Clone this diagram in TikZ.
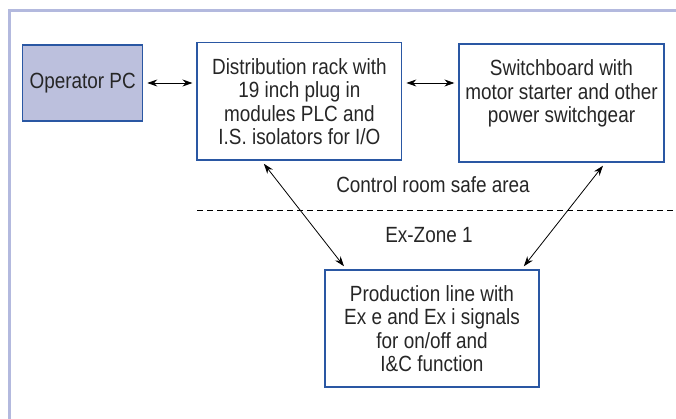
\documentclass[tikz,border=0pt]{standalone}
\usepackage{fontspec}
\setmainfont[FakeStretch=0.86]{Liberation Sans}
\usetikzlibrary{arrows.meta,calc}
\definecolor{cadre}{HTML}{B3B9DE}
\definecolor{bordbleu}{HTML}{2A57A3}
\definecolor{fondpc}{HTML}{BCC0DD}
\definecolor{texte}{HTML}{262626}

\begin{document}
\begin{tikzpicture}[x=1pt,y=-1pt,
        font=\fontsize{22}{23.5}\selectfont,
        every node/.style={text=texte, align=center},
        boite/.style={draw=bordbleu, line width=1.2pt, inner sep=0pt},%cadres bleus
        fleche/.style={{Stealth[length=10pt,width=7pt]}-{Stealth[length=10pt,width=7pt]}, line width=0.8pt, shorten <=4pt, shorten >=4pt}]
    \useasboundingbox (0,0) rectangle (676,419);
    % cadre de la figure
    \draw[cadre, line width=3pt] (9,419) -- (9,11) -- (676,11);

    \node[boite, fill=fondpc, minimum width=120pt, minimum height=76pt] (pc) at (82.7,83) {Operator PC};
    \node[boite, minimum width=204.7pt, minimum height=117.3pt] (rack) at (299.4,101.4)
        {Distribution rack with\\19 inch plug in\\modules PLC and\\I.S. isolators for I/O};
    \node[boite, minimum width=205pt, minimum height=118pt] (switch) at (561.5,103)
        {Switchboard with\\motor starter and other\\power switchgear\\\mbox{}};
    \node[boite, minimum width=214pt, minimum height=117pt] (prod) at (432,328.5)
        {Production line with\\Ex e and Ex i signals\\for on/off and\\I\&C function};

    % separation des zones
    \coordinate (zg) at (197,210.7);
    \coordinate (zd) at (676,210.7);
    \draw[dash pattern=on 6pt off 4pt, line width=0.8pt] (zg) -- (zd);
    \node (safe) at (433,185) {Control room safe area};
    \node (zone) at (429,235) {Ex-Zone 1};

    \draw[fleche] (pc.east) -- (rack.west |- pc.east);
    \draw[fleche] (rack.east |- pc.east) -- (switch.west |- pc.east);
    \draw[fleche] ($(rack.south west)+(65,0)$) -- ($(prod.north west)+(22,0)$);
    \draw[fleche] ($(switch.south west)+(147,0)$) -- ($(prod.north west)+(197,0)$);
\end{tikzpicture}
\end{document}
